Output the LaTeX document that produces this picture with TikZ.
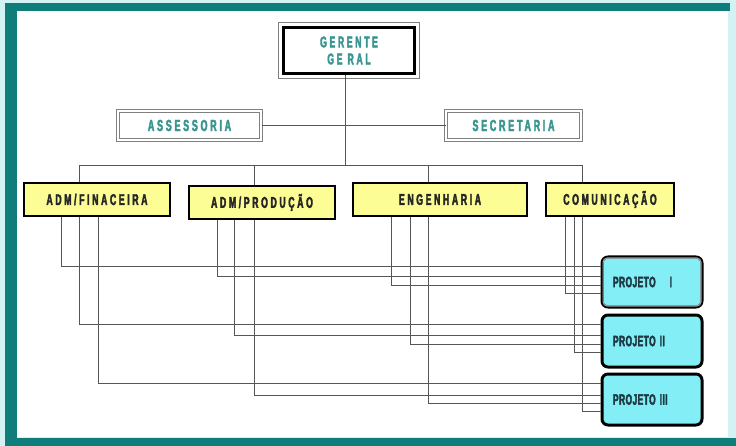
\documentclass[tikz,border=0pt]{standalone}
\usepackage{fontspec}
\setmainfont{Liberation Sans}
\newfontfamily\orgfont{Liberation Sans}[FakeStretch=0.56,LetterSpace=17,FakeBold=2.5]
\newfontfamily\projfont{Liberation Sans}[FakeStretch=0.56,LetterSpace=3,FakeBold=2.5]
\definecolor{framec}{HTML}{0F7E7B}
\definecolor{paleedge}{HTML}{D3F2F4}
\definecolor{tealtext}{HTML}{3A9690}
\definecolor{yellowc}{HTML}{FDFD95}
\definecolor{cyanc}{HTML}{84EEF6}
\definecolor{projtext}{HTML}{1D3A44}
\definecolor{linec}{HTML}{555555}
\begin{document}
\begin{tikzpicture}[x=1pt,y=-1pt,
  conn/.style={draw=linec, line width=1pt},
  topbox/.style={draw=black, line width=3pt, fill=white, minimum width=131pt,
    minimum height=46pt, inner sep=0pt, align=center, text=tealtext,
    font=\orgfont\bfseries\fontsize{15.5}{17}\selectfont},
  staffbox/.style={draw=gray, double=white, double distance=2pt, line width=1pt,
    minimum height=29pt, inner sep=0pt, text=tealtext,
    font=\orgfont\bfseries\fontsize{16}{16}\selectfont},
  deptbox/.style={draw=black, line width=2pt, fill=yellowc, minimum height=33pt,
    inner sep=0pt, text=black!85,
    font=\orgfont\bfseries\fontsize{15.5}{16}\selectfont},
  projbox/.style={draw=black, line width=3pt, rounded corners=6pt, fill=cyanc,
    minimum width=100pt, inner xsep=11pt, inner ysep=0pt, text width=78pt,
    align=left, text=projtext, font=\projfont\bfseries\fontsize{15}{15}\selectfont}
]
\useasboundingbox (0,0) rectangle (736,446);
% frame
\fill[paleedge] (0,0) rectangle (736,446);
\fill[white] (17,11) rectangle (728,437);
\fill[framec] (5,3) rectangle (730,11);
\fill[framec] (5,3) rectangle (17,446);
\fill[framec] (5,438) rectangle (736,446);

% nodes
\node[topbox] (ger) at (349,50.5) {GERENTE\\GE RAL};
\draw[gray, line width=1pt] ([shift={(-3.5pt,3.5pt)}]ger.north west) rectangle ([shift={(3.5pt,-3.5pt)}]ger.south east);
\node[staffbox, minimum width=143pt] (ass) at (189.5,125.5) {ASSESSORIA};
\node[staffbox, minimum width=135pt] (sec) at (513.5,125.5) {SECRETARIA};

\node[deptbox, minimum width=146pt] (fin) at (97,199.5) {ADM/FINACEIRA};
\node[deptbox, minimum width=146pt] (prod) at (262,202.5) {ADM/PRODUÇÃO};
\node[deptbox, minimum width=174pt] (eng) at (440,199.5) {ENGENHARIA};
\node[deptbox, minimum width=128pt] (com) at (610,199.5) {COMUNICAÇÃO};

\node[projbox, minimum height=50pt] (p1) at (652,282) {PROJETO\hspace{14pt}I};
\node[projbox, minimum height=52pt] (p2) at (652,341) {PROJETO\hspace{4pt}II};
\node[projbox, minimum height=51pt] (p3) at (652,399.5) {PROJETO\hspace{4pt}III};
\draw[gray!75, line width=1.2pt, rounded corners=4pt] ([shift={(2.6pt,-2.6pt)}]p1.north west) rectangle ([shift={(-2.6pt,2.6pt)}]p1.south east);

% top connectors
\coordinate (hub) at (345,165.5);
\draw[conn] (ger.south -| hub) -- (hub);
\draw[conn] (ass.east) -- (sec.west);
\draw[conn] (fin.north -| 79,0) |- (hub) -| (com.north -| 582,0);
\draw[conn] (prod.north -| 254,0) |- (hub);
\draw[conn] (eng.north -| 428,0) |- (hub);

% department to project connectors
\foreach \d/\x/\p/\y in {fin/61/p1/267, fin/79/p2/324, fin/98/p3/383,
  prod/217/p1/277, prod/234/p2/335, prod/254/p3/395,
  eng/391/p1/286, eng/410/p2/344, eng/428/p3/403,
  com/565/p1/294, com/574/p2/352, com/582/p3/411}
  \draw[conn] (\d.south -| \x,0) |- (\p.west |- 0,\y);
\end{tikzpicture}
\end{document}
